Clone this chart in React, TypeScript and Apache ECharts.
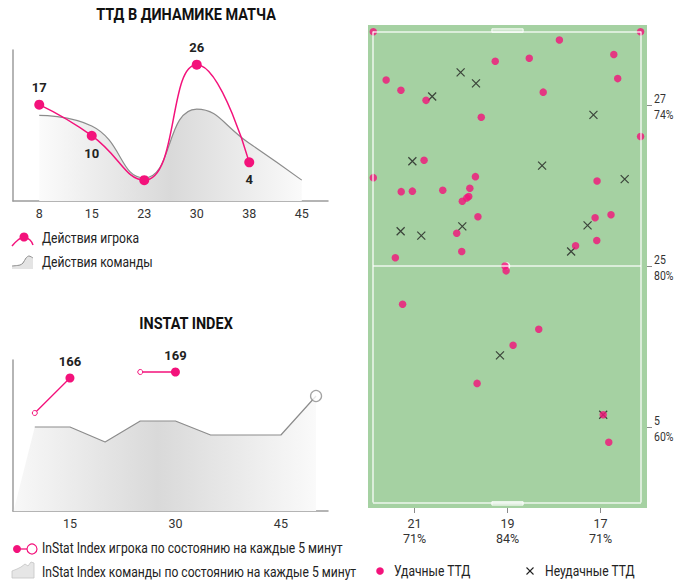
import React, { useEffect, useRef } from 'react';
import * as echarts from 'echarts';

const FONT = "Roboto, 'Noto Sans', sans-serif";
const PINK = '#f3127b';
const GRAY_LINE = '#8c8c8c';
const AXIS = '#9c9c9c';
const TEXT = '#222222';

// ---- Chart 1: ТТД в динамике матча ----
const ttdCategories = ['8', '15', '23', '30', '38', '45'];
const ttdPlayer = [17, 10, 0, 26, 4, null];
const ttdTeam = [14.6, 12.2, 0.5, 16, 8.3, 0];

// ---- Chart 2: InStat Index ----
const indexMinutes = [5, 10, 15, 20, 25, 30, 35, 40, 45, 50];
const indexTeam = [72, 141.5, 141.5, 134, 144.5, 144.5, 137.5, 137.5, 137.5, 157];
const indexPlayerMinutes = [10, 15, 20, 25, 30];
const indexPlayer = [148.5, 166, null, 169, 169];
const indexPlayerLabeled = [false, true, false, false, true];
const indexTickLabels = [15, 30, 45];

// ---- Chart 3: pitch ----
const successfulTTD = [
  [1.9, 98.6], [97.7, 98.6], [68.6, 96.9], [88.1, 93.9], [45.6, 92.5], [57.8, 93.1],
  [6.5, 88.6], [89.5, 88.9], [11.8, 86.5], [20.8, 84.4], [62.8, 86.1], [40.6, 80.9],
  [97.7, 76.9], [20.1, 72.0], [1.9, 68.4], [38.5, 68.6], [82.1, 67.7], [11.9, 65.5],
  [15.9, 65.6], [26.8, 65.8], [36.5, 66.2], [36.1, 64.5], [35.4, 64.2], [33.8, 63.5],
  [39.4, 60.3], [87.1, 60.7], [81.4, 60.1], [31.8, 56.9], [82.0, 55.4], [74.4, 54.3],
  [33.6, 53.1], [9.8, 51.8], [49.1, 50.1], [49.5, 49.1], [12.4, 42.2], [61.2, 37.0],
  [52.0, 33.7], [39.1, 25.8], [84.3, 19.3], [86.3, 13.6],
];
const failedTTD = [
  [33.2, 90.2], [38.7, 87.9], [23.0, 85.2], [80.8, 81.4], [15.9, 71.8], [62.4, 70.9],
  [92.0, 68.1], [11.7, 57.3], [19.1, 56.4], [33.8, 58.3], [78.7, 58.5], [72.8, 53.1],
  [47.3, 31.6], [84.3, 19.3],
];
const zoneTicks = [16.67, 50, 83.33];
const zoneColCounts = [21, 19, 17];
const zoneColPct = ['71%', '84%', '71%'];
const zoneRowCounts = [5, 25, 27];
const zoneRowPct = ['60%', '80%', '74%'];

const pitchLines = [
  [[1.8, 98.65], [97.85, 98.65]],
  [[1.8, 1.15], [97.85, 1.15]],
  [[1.8, 98.65], [1.8, 1.15]],
  [[97.85, 98.65], [97.85, 1.15]],
  [[1.8, 50.1], [97.85, 50.1]],
];
const goalBoxes = [
  [[44.4, 99.2], [55.6, 98.5]],
  [[44.4, 1.3], [55.6, 0.6]],
];
const centerSpot = [[49.6, 50.1]];

function zoneIndex(v: number) {
  let best = 0;
  zoneTicks.forEach((t, i) => {
    if (Math.abs(t - v) < Math.abs(zoneTicks[best] - v)) best = i;
  });
  return best;
}

const areaGradient = () =>
  new echarts.graphic.LinearGradient(0, 0, 1, 0, [
    { offset: 0, color: '#fbfbfb' },
    { offset: 0.5, color: '#d9d9d9' },
    { offset: 1, color: '#fafafa' },
  ]);

const legendText = (text: string, x: number, y: number) => ({
  type: 'text', x, y, scaleX: 0.865,
  style: { text, fontSize: 14, fontFamily: FONT, fill: TEXT, verticalAlign: 'middle' },
});

export default function App() {
  const ref = useRef<HTMLDivElement>(null);

  useEffect(() => {
    if (!ref.current) return;
    const chart = echarts.init(ref.current, null, { renderer: 'svg' });

    const axisLineStyle = { color: AXIS, width: 1.5 };
    const labelStyle = { color: '#333', fontSize: 12.5, fontFamily: FONT };

    const baseGraphic: any[] = [
      {
        type: 'text', x: 186, y: 14, scaleX: 0.85,
        style: { text: 'ТТД В ДИНАМИКЕ МАТЧА', fontSize: 17, fontWeight: 'bold', fontFamily: FONT, fill: '#111', align: 'center', verticalAlign: 'middle' },
      },
      {
        type: 'text', x: 186, y: 323, scaleX: 0.85,
        style: { text: 'INSTAT INDEX', fontSize: 17, fontWeight: 'bold', fontFamily: FONT, fill: '#111', align: 'center', verticalAlign: 'middle' },
      },
      // Legend 1
      {
        type: 'polyline', shape: { points: [[12, 246], [18, 240], [24, 237], [30, 240], [33, 245]], smooth: 0.4 },
        style: { stroke: PINK, lineWidth: 1.5, fill: null },
      },
      { type: 'circle', shape: { cx: 24, cy: 237, r: 4.5 }, style: { fill: PINK } },
      legendText('Действия игрока', 42, 238),
      {
        type: 'polygon',
        shape: { points: [[12, 269], [12, 266], [20, 265], [23, 263], [26, 258], [29, 256], [33, 258], [33, 269]] },
        style: { fill: '#e4e4e4' },
      },
      {
        type: 'polyline', shape: { points: [[12, 266], [20, 265], [23, 263], [26, 258], [29, 256], [33, 258]], smooth: 0.3 },
        style: { stroke: GRAY_LINE, lineWidth: 1, fill: null },
      },
      legendText('Действия команды', 42, 262),
      // Legend 2
      { type: 'line', shape: { x1: 17, y1: 549, x2: 27, y2: 549 }, style: { stroke: PINK, lineWidth: 1.3 } },
      { type: 'circle', shape: { cx: 17, cy: 549, r: 4 }, style: { fill: PINK } },
      { type: 'circle', shape: { cx: 32, cy: 549, r: 5 }, style: { fill: '#fff', stroke: PINK, lineWidth: 1.2 } },
      legendText('InStat Index игрока по состоянию на каждые 5 минут', 42, 548),
      {
        type: 'polygon',
        shape: { points: [[12, 578], [12, 571], [17, 569], [21, 567], [25, 564], [28, 566], [31, 562], [34, 563], [34, 578]] },
        style: { fill: '#e6e6e6', stroke: '#c4c4c4', lineWidth: 0.8 },
      },
      legendText('InStat Index команды по состоянию на каждые 5 минут', 42, 572),
      // Legend 3
      { type: 'circle', shape: { cx: 380, cy: 571, r: 3.8 }, style: { fill: PINK } },
      legendText('Удачные ТТД', 394, 571),
      { type: 'line', shape: { x1: 526.5, y1: 567.5, x2: 533.5, y2: 574.5 }, style: { stroke: '#222', lineWidth: 1.1 } },
      { type: 'line', shape: { x1: 526.5, y1: 574.5, x2: 533.5, y2: 567.5 }, style: { stroke: '#222', lineWidth: 1.1 } },
      legendText('Неудачные ТТД', 545, 571),
    ];

    const option: any = {
      animation: false,
      textStyle: { fontFamily: FONT },
      grid: [
        { left: 13, top: 50, width: 315, height: 151, outerBoundsMode: 'none', containLabel: false },
        { left: 13, top: 360, width: 315, height: 151, outerBoundsMode: 'none', containLabel: false },
        {
          left: 368, top: 25, width: 279, height: 483, show: true, backgroundColor: '#a5d1a2', borderWidth: 0,
          outerBoundsMode: 'none', containLabel: false,
        },
      ],
      xAxis: [
        {
          gridIndex: 0, type: 'category', data: ttdCategories, boundaryGap: true,
          axisLine: { onZero: false, lineStyle: axisLineStyle }, axisTick: { show: false },
          axisLabel: { ...labelStyle, margin: 6 },
        },
        {
          gridIndex: 1, type: 'value', min: 6.9, max: 51.7,
          axisLine: { show: true, onZero: false, lineStyle: axisLineStyle }, axisTick: { show: false },
          splitLine: { show: false },
          axisLabel: { ...labelStyle, margin: 6, customValues: indexTickLabels },
        },
        {
          gridIndex: 2, type: 'value', min: 0, max: 100,
          axisLine: { show: false, onZero: false }, splitLine: { show: false },
          axisTick: { show: true, customValues: zoneTicks, length: 5, lineStyle: { color: '#8a8a8a', width: 1 } },
          axisLabel: {
            ...labelStyle, margin: 8, lineHeight: 15, customValues: zoneTicks,
            formatter: (v: number) => {
              const i = zoneIndex(v);
              return zoneColCounts[i] + '\n' + zoneColPct[i];
            },
          },
        },
      ],
      yAxis: [
        {
          gridIndex: 0, type: 'value', min: -4.7, max: 29.3,
          axisLine: { show: true, onZero: false, lineStyle: axisLineStyle }, axisTick: { show: false },
          axisLabel: { show: false }, splitLine: { show: false },
        },
        {
          gridIndex: 1, type: 'value', min: 99.5, max: 175,
          axisLine: { show: true, onZero: false, lineStyle: axisLineStyle }, axisTick: { show: false },
          axisLabel: { show: false }, splitLine: { show: false },
        },
        {
          gridIndex: 2, type: 'value', min: 0, max: 100, position: 'right',
          axisLine: { show: false, onZero: false }, splitLine: { show: false },
          axisTick: { show: true, customValues: zoneTicks, length: 5, lineStyle: { color: '#8a8a8a', width: 1 } },
          axisLabel: { show: false },
        },
      ],
      series: [
        // Chart 1 team
        {
          type: 'line', xAxisIndex: 0, yAxisIndex: 0, data: ttdTeam, smooth: 0.5,
          symbol: 'none', lineStyle: { color: GRAY_LINE, width: 1.2 },
          areaStyle: { color: areaGradient(), opacity: 1, origin: 'start' }, z: 1, silent: true,
        },
        // Chart 1 player
        {
          type: 'line', xAxisIndex: 0, yAxisIndex: 0, smooth: 0.5,
          symbol: 'circle', symbolSize: 10,
          itemStyle: { color: PINK }, lineStyle: { color: PINK, width: 1.5 }, z: 3, silent: true,
          data: ttdPlayer.map((v, i) => {
            if (v === null) return null;
            const prev = i > 0 ? ttdPlayer[i - 1] : -Infinity;
            const above = prev === null || v > (prev as number);
            return {
              value: v,
              label: {
                show: v !== 0,
                position: above ? 'top' : 'bottom',
                distance: 6,
                fontWeight: 'bold', fontSize: 13, color: TEXT, fontFamily: FONT,
              },
            };
          }),
        },
        // Chart 2 team area
        {
          type: 'line', xAxisIndex: 1, yAxisIndex: 1,
          data: indexMinutes.map((m, i) => [m, indexTeam[i]]),
          symbol: 'none', lineStyle: { width: 0, opacity: 0 },
          areaStyle: { color: areaGradient(), opacity: 1, origin: 'start' }, z: 1, silent: true,
        },
        // Chart 2 team line
        {
          type: 'line', xAxisIndex: 1, yAxisIndex: 1,
          data: indexMinutes.slice(1).map((m, i) => [m, indexTeam[i + 1]]),
          symbol: 'none', lineStyle: { color: GRAY_LINE, width: 1.2 }, z: 2, silent: true,
        },
        // Chart 2 team end marker
        {
          type: 'scatter', xAxisIndex: 1, yAxisIndex: 1,
          data: [[indexMinutes[indexMinutes.length - 1], indexTeam[indexTeam.length - 1]]],
          symbol: 'circle', symbolSize: 11,
          itemStyle: { color: '#ffffff', borderColor: GRAY_LINE, borderWidth: 1.3 }, z: 3, silent: true,
        },
        // Chart 2 player
        {
          type: 'line', xAxisIndex: 1, yAxisIndex: 1, connectNulls: false,
          lineStyle: { color: PINK, width: 1.3 }, z: 4, silent: true,
          data: indexPlayerMinutes.map((m, i) => {
            const v = indexPlayer[i];
            if (v === null) return [m, null];
            const labeled = indexPlayerLabeled[i];
            return {
              value: [m, v],
              symbol: 'circle',
              symbolSize: labeled ? 9 : 5,
              itemStyle: labeled
                ? { color: PINK }
                : { color: '#ffffff', borderColor: PINK, borderWidth: 1 },
              label: {
                show: labeled, position: 'top', distance: 6,
                formatter: String(v),
                fontWeight: 'bold', fontSize: 13, color: TEXT, fontFamily: FONT,
              },
            };
          }),
        },
        // Chart 3 pitch markings
        {
          type: 'scatter', xAxisIndex: 2, yAxisIndex: 2, data: centerSpot,
          symbol: 'circle', symbolSize: 8, itemStyle: { color: '#ffffff' }, z: 2, silent: true,
          markLine: {
            silent: true, symbol: ['none', 'none'], label: { show: false },
            lineStyle: { color: 'rgba(255,255,255,0.8)', width: 1.5, type: 'solid' },
            data: pitchLines.map(([a, b]) => [{ coord: a }, { coord: b }]),
          },
          markArea: {
            silent: true, label: { show: false },
            itemStyle: { color: 'rgba(255,255,255,0.45)', borderColor: 'rgba(255,255,255,0.95)', borderWidth: 1 },
            data: goalBoxes.map(([a, b]) => [{ coord: a }, { coord: b }]),
          },
        },
        // Chart 3 failed
        {
          type: 'scatter', xAxisIndex: 2, yAxisIndex: 2, data: failedTTD,
          symbol: 'path://M0,0L10,10M0,10L10,0', symbolSize: 8,
          itemStyle: { color: 'transparent', borderColor: '#1f1f1f', borderWidth: 1.2 }, z: 3, silent: true,
        },
        // Chart 3 successful
        {
          type: 'scatter', xAxisIndex: 2, yAxisIndex: 2, data: successfulTTD,
          symbol: 'circle', symbolSize: 7.5, itemStyle: { color: PINK }, z: 4, silent: true,
        },
      ],
      graphic: baseGraphic,
    };

    chart.setOption(option);

    // Right-side zone labels, positioned through the pitch's y axis (condensed to fit)
    const rowLabels = zoneTicks.map((t) => {
      const py = chart.convertToPixel({ yAxisIndex: 2 }, t) as number;
      const px = chart.convertToPixel({ xAxisIndex: 2 }, 100) as number;
      const i = zoneIndex(t);
      return {
        type: 'text', x: px + 7, y: py + 1, scaleX: 0.84,
        style: {
          text: zoneRowCounts[i] + '\n' + zoneRowPct[i],
          fontSize: 12.5, lineHeight: 16, fontFamily: FONT, fill: '#333',
          align: 'left', verticalAlign: 'middle',
        },
      };
    });
    chart.setOption({ graphic: [...baseGraphic, ...rowLabels] });

    return () => chart.dispose();
  }, []);

  return (
    <div
      ref={ref}
      style={{ position: 'absolute', left: 0, top: 0, width: 674, height: 585, background: '#ffffff' }}
    />
  );
}
